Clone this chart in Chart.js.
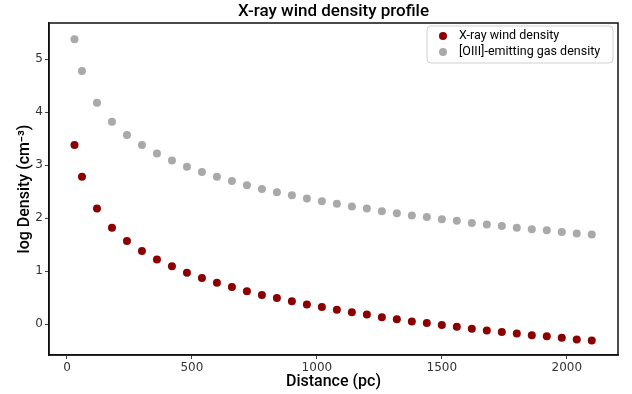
<!DOCTYPE html>
<html>
<head>
<meta charset="utf-8">
<script src="https://cdn.jsdelivr.net/npm/chart.js@4/dist/chart.umd.min.js"></script>
<style>
  html, body { margin: 0; padding: 0; background: #fff; }
  #wrap { width: 632px; height: 394px; }
</style>
</head>
<body>
<div id="wrap"><canvas id="chart" width="632" height="394"></canvas></div>
<script>
// Distance (pc)
const distances = [30, 60, 120, 180, 240, 300, 360, 420, 480, 540, 600, 660, 720, 780, 840, 900, 960, 1020,
    1080, 1140, 1200, 1260, 1320, 1380, 1440, 1500, 1560, 1620, 1680, 1740, 1800, 1860, 1920, 1980, 2040, 2100];

// log density values
const xrayDensity = [3.38, 2.78, 2.18, 1.82, 1.57, 1.38, 1.22, 1.09, 0.97, 0.87, 0.78, 0.70, 0.62, 0.55, 0.49, 0.43, 0.37, 0.32,
    0.27, 0.22, 0.18, 0.13, 0.09, 0.05, 0.02, -0.02, -0.05, -0.09, -0.12, -0.15, -0.18, -0.21, -0.23, -0.26, -0.29, -0.31];
const oiiiDensity = [5.38, 4.78, 4.18, 3.82, 3.57, 3.38, 3.22, 3.09, 2.97, 2.87, 2.78, 2.70, 2.62, 2.55, 2.49, 2.43, 2.37, 2.32,
    2.27, 2.22, 2.18, 2.13, 2.09, 2.05, 2.02, 1.98, 1.95, 1.91, 1.88, 1.85, 1.82, 1.79, 1.77, 1.74, 1.71, 1.69];

const xTicks = [0, 500, 1000, 1500, 2000];
const yTicks = [0, 1, 2, 3, 4, 5];

const seriesLabels = ['X-ray wind density', '[OIII]-emitting gas density'];
const seriesColors = ['#8b0000', '#a9a9a9'];

const TITLE = 'X-ray wind density profile';
const X_LABEL = 'Distance (pc)';
const Y_LABEL = 'log Density (cm⁻³)';

const titleFont = '500 17px Roboto, "DejaVu Sans", sans-serif';
const labelFont = '500 16px Roboto, "DejaVu Sans", sans-serif';
const tickFont = { family: '"DejaVu Sans", sans-serif', size: 12 };

function toPoints(xs, ys) {
    return xs.map((x, i) => ({ x: x, y: ys[i] }));
}

// Draws the title, axis labels, full frame and the legend box
const decorPlugin = {
    id: 'decor',
    afterDraw(chart) {
        const ctx = chart.ctx;
        const area = chart.chartArea;
        ctx.save();

        // frame (top / right spines)
        ctx.strokeStyle = '#111';
        ctx.lineWidth = 1.5;
        ctx.strokeRect(area.left, area.top, area.right - area.left, area.bottom - area.top);

        ctx.fillStyle = '#000';
        ctx.textAlign = 'center';
        ctx.textBaseline = 'middle';
        const cx = (area.left + area.right) / 2;
        ctx.font = titleFont;
        ctx.fillText(TITLE, cx, 12);
        ctx.font = labelFont;
        ctx.fillText(X_LABEL, cx, 382);

        ctx.save();
        ctx.translate(25, (area.top + area.bottom) / 2);
        ctx.rotate(-Math.PI / 2);
        ctx.fillText(Y_LABEL, 0, 0);
        ctx.restore();

        // legend
        const bx = 427, by = 26, bw = 186, bh = 37;
        ctx.beginPath();
        ctx.roundRect(bx, by, bw, bh, 4);
        ctx.fillStyle = 'rgba(255,255,255,0.85)';
        ctx.fill();
        ctx.strokeStyle = '#d0d0d0';
        ctx.lineWidth = 1;
        ctx.stroke();

        ctx.font = '12.5px Roboto, "DejaVu Sans", sans-serif';
        ctx.textAlign = 'left';
        seriesLabels.forEach((label, i) => {
            const ry = 36 + i * 16;
            ctx.beginPath();
            ctx.arc(443, ry, 4, 0, Math.PI * 2);
            ctx.fillStyle = seriesColors[i];
            ctx.fill();
            ctx.fillStyle = '#000';
            ctx.fillText(label, 459, ry);
        });
        ctx.restore();
    }
};

new Chart(document.getElementById('chart'), {
    type: 'scatter',
    data: {
        datasets: [
            {
                label: seriesLabels[0],
                data: toPoints(distances, xrayDensity),
                backgroundColor: seriesColors[0],
                borderWidth: 0,
                pointRadius: 4,
                pointHoverRadius: 4
            },
            {
                label: seriesLabels[1],
                data: toPoints(distances, oiiiDensity),
                backgroundColor: seriesColors[1],
                borderWidth: 0,
                pointRadius: 4,
                pointHoverRadius: 4
            }
        ]
    },
    options: {
        responsive: false,
        animation: false,
        layout: { padding: { left: 0, right: 14, top: 23, bottom: 0 } },
        plugins: {
            legend: { display: false },
            title: { display: false },
            tooltip: { enabled: false }
        },
        scales: {
            x: {
                type: 'linear',
                min: -72,
                max: 2205,
                afterBuildTicks: (scale) => { scale.ticks = xTicks.map(v => ({ value: v })); },
                afterFit: (scale) => { scale.height = 39; },
                grid: { drawOnChartArea: false, drawTicks: true, tickLength: 4, color: '#444' },
                border: { display: true, color: '#111', width: 1.5 },
                ticks: { font: tickFont, color: '#333', padding: 2, maxRotation: 0, callback: (v) => String(v) }
            },
            y: {
                type: 'linear',
                min: -0.585,
                max: 5.685,
                afterBuildTicks: (scale) => { scale.ticks = yTicks.map(v => ({ value: v })); },
                afterFit: (scale) => { scale.width = 49; },
                grid: { drawOnChartArea: false, drawTicks: true, tickLength: 4, color: '#444' },
                border: { display: true, color: '#111', width: 1.5 },
                ticks: { font: tickFont, color: '#333', padding: 2, callback: (v) => String(v) }
            }
        }
    },
    plugins: [decorPlugin]
});
</script>
</body>
</html>
